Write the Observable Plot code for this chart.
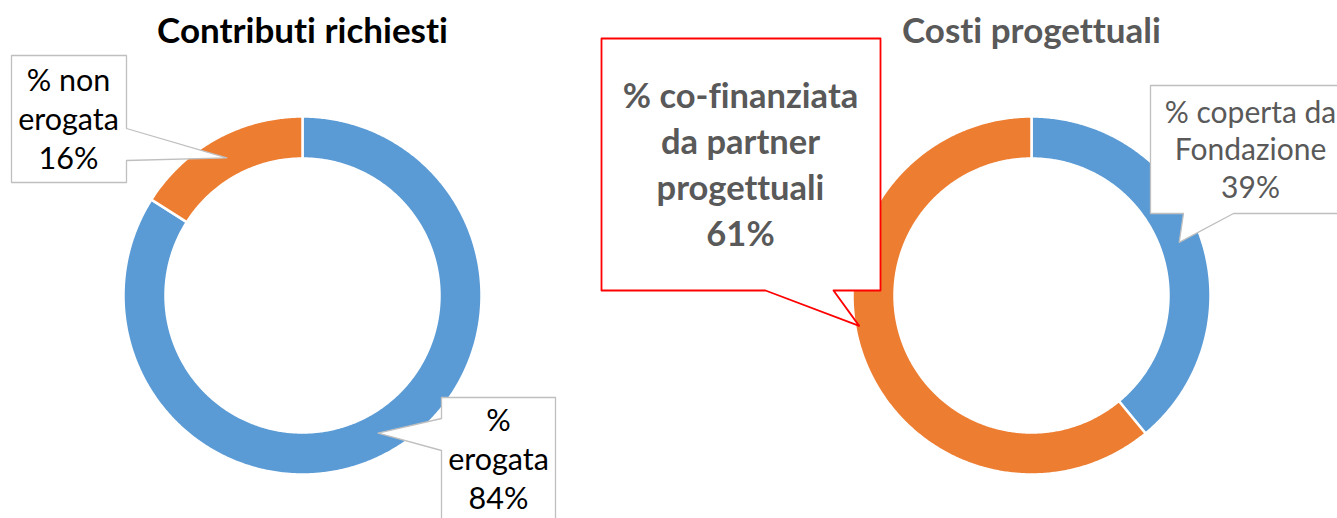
<!DOCTYPE html>
<html><head><meta charset="utf-8">
<script src="https://cdn.jsdelivr.net/npm/d3@7"></script>
<script src="https://cdn.jsdelivr.net/npm/@observablehq/plot@0.6"></script>
<style>body{margin:0;background:#fff;overflow:hidden} svg text{font-variant-ligatures:none;font-feature-settings:"liga" 0}</style>
</head><body><div id="chart"></div>
<script>
// ---- data ----
const chartTitles = ["Contributi richiesti", "Costi progettuali"];
const categoriesLeft = ["% erogata", "% non erogata"];
const valuesLeft = [84, 16];
const categoriesRight = ["% coperta da Fondazione", "% co-finanziata da partner progettuali"];
const valuesRight = [39, 61];
// wrapped label texts as shown in the callouts
const labelLinesLeft = ["%\nerogata", "% non\nerogata"];
const labelLinesRight = ["% coperta da\nFondazione", "% co-finanziata\nda partner\nprogettuali"];
const sliceColors = ["#5B9BD5", "#ED7D31"];

// ---- layout ----
const W = 1337, H = 518;
const donutLayout = [{cx: 302, cy: 295}, {cx: 1031, cy: 295}];
const R_OUT = 179, R_IN = 137, R_TIP = 157;
const titleLayout = [{y: 42, fill: "#000000"}, {y: 42, fill: "#595959"}];
// callout boxes (per chart, per slice)
const calloutLayout = [
  [ // left chart
    {box: [441, 397, 555, 540], side: "left", base: [418, 450], tipAngle: null, tipR: R_TIP,
     tx: 498, ty: 508, lh: 39, size: 30.5, weight: "normal", color: "#000000", stroke: "#BFBFBF", sw: 1.3},
    {box: [11, 55, 126, 182], side: "right", base: [128, 160], tipAngle: null, tipR: R_TIP,
     tx: 68, ty: 168, lh: 39, size: 30.5, weight: "normal", color: "#000000", stroke: "#BFBFBF", sw: 1.3}
  ],
  [ // right chart
    {box: [1150, 85, 1360, 213], side: "bottom", base: [1183, 1233], tipAngle: null, tipR: R_TIP,
     tx: 1250, ty: 197, lh: 37.5, size: 30, weight: "normal", color: "#595959", stroke: "#BFBFBF", sw: 1.3},
    {box: [601, 38, 880, 290], side: "bottom", base: [765, 833], tipAngle: 260, tipR: 175,
     tx: 740, ty: 245, lh: 45.7, size: 34.5, weight: "bold", color: "#595959", stroke: "#FF0000", sw: 1.8}
  ]
];

const series = [
  {cats: categoriesLeft, vals: valuesLeft, lines: labelLinesLeft},
  {cats: categoriesRight, vals: valuesRight, lines: labelLinesRight}
];

// ---- geometry built from the values ----
const rad = d => d * Math.PI / 180;
const ringPts = [];
const boxPts = [];
const labels = [];
series.forEach((s, ci) => {
  const {cx, cy} = donutLayout[ci];
  const total = d3.sum(s.vals);
  let a0 = 0;
  s.vals.forEach((v, si) => {
    const a1 = a0 + v / total * 360;
    const id = `${ci}-${si}`;
    const n = Math.max(2, Math.ceil((a1 - a0) / 0.5));
    const pts = [];
    for (let k = 0; k <= n; k++) {
      const a = rad(a0 + (a1 - a0) * k / n);
      pts.push([cx + R_OUT * Math.sin(a), cy - R_OUT * Math.cos(a)]);
    }
    for (let k = n; k >= 0; k--) {
      const a = rad(a0 + (a1 - a0) * k / n);
      pts.push([cx + R_IN * Math.sin(a), cy - R_IN * Math.cos(a)]);
    }
    pts.push(pts[0]);
    pts.forEach(([x, y]) => ringPts.push({id, slice: si, x, y}));

    // callout
    const L = calloutLayout[ci][si];
    const mid = L.tipAngle == null ? (a0 + a1) / 2 : L.tipAngle;
    const tip = [cx + L.tipR * Math.sin(rad(mid)), cy - L.tipR * Math.cos(rad(mid))];
    const [x0, y0, x1, y1] = L.box;
    let poly;
    if (L.side === "left") {
      poly = [[x0, y0], [x1, y0], [x1, y1], [x0, y1], [x0, L.base[1]], tip, [x0, L.base[0]], [x0, y0]];
    } else if (L.side === "right") {
      poly = [[x0, y0], [x1, y0], [x1, L.base[0]], tip, [x1, L.base[1]], [x1, y1], [x0, y1], [x0, y0]];
    } else {
      poly = [[x0, y0], [x1, y0], [x1, y1], [L.base[1], y1], tip, [L.base[0], y1], [x0, y1], [x0, y0]];
    }
    poly.forEach(([x, y]) => boxPts.push({id: "b" + id, stroke: L.stroke, sw: L.sw, x, y}));
    labels.push({text: s.lines[si] + "\n" + v + "%", x: L.tx, y: L.ty, lh: L.lh / L.size,
                 size: L.size, weight: L.weight, color: L.color});
    a0 = a1;
  });
});

const titles = chartTitles.map((t, i) => ({text: t, x: donutLayout[i].cx, y: titleLayout[i].y, fill: titleLayout[i].fill}));

const marks = [
  Plot.line(ringPts, {x: "x", y: "y", z: "id", fill: d => sliceColors[d.slice], stroke: "#ffffff", strokeWidth: 2.5, curve: "linear"}),
  ...d3.groups(boxPts, d => d.id).map(([id, pts]) =>
    Plot.line(pts, {x: "x", y: "y", fill: "#ffffff", stroke: pts[0].stroke, strokeWidth: pts[0].sw, curve: "linear"})),
  ...labels.map(l => Plot.text([l], {x: "x", y: "y", text: "text", lineAnchor: "bottom", lineHeight: l.lh,
    fontSize: l.size, fontWeight: l.weight, fill: l.color, textAnchor: "middle"})),
  Plot.text(titles, {x: "x", y: "y", text: "text", fill: d => d.fill, lineAnchor: "bottom", fontSize: 35, fontWeight: "bold", textAnchor: "middle"})
];

const chart = Plot.plot({
  width: W, height: H, margin: 0,
  x: {type: "linear", domain: [0, W], axis: null},
  y: {type: "linear", domain: [0, H], reverse: true, axis: null},
  color: {type: "identity"},
  style: {fontFamily: "Lato, 'Open Sans', sans-serif", background: "#fff", overflow: "hidden"},
  marks
});
document.getElementById("chart").appendChild(chart);
</script>
</body></html>
